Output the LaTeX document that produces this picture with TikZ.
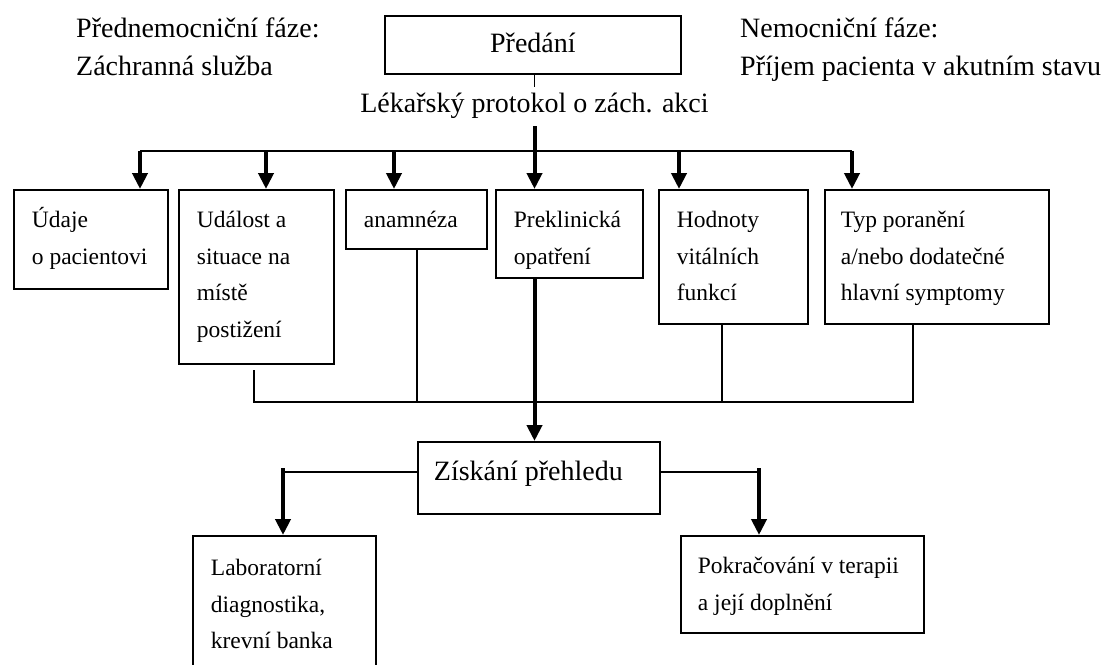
\documentclass[tikz,border=0pt]{standalone}
\usepackage{fontspec}
\setmainfont{Liberation Serif}
\usetikzlibrary{arrows.meta,calc}
% box text: width, height, left indent, first baseline, text
\newcommand\bt[5]{\parbox[c][#2pt][t]{#1pt}{\fontsize{23.5}{36.5}\selectfont\raggedright\leftskip=#3pt\relax\rule{0pt}{#4pt}#5}}
\newcommand\btl[5]{\parbox[c][#2pt][t]{#1pt}{\fontsize{28}{38}\selectfont\raggedright\leftskip=#3pt\relax\rule{0pt}{#4pt}#5}}
\begin{document}
\begin{tikzpicture}[x=1pt,y=1pt,
  box/.style={draw, line width=1.8pt, fill=white, inner sep=0pt, anchor=north west},
  free/.style={anchor=north west, inner sep=0pt, align=left, font=\fontsize{28}{38}\selectfont},
  conn/.style={line width=1.6pt},
  arr/.style={line width=4pt, -{Triangle[width=15pt,length=16pt]}}]
\useasboundingbox (0,0) rectangle (1108,-664);
\fill[white] (0,0) rectangle (1108,-664);
\clip (0,0) rectangle (1108,-664);

% headings
\node[free] (pre) at (76,-7) {\rule{0pt}{30pt}Přednemocniční fáze:\\Záchranná služba};
\node[free] (nem) at (740,-7) {\rule{0pt}{30pt}Nemocniční fáze:\\Příjem pacienta v akutním stavu};

% top box and protocol
\node[box] (predani) at (384,-15) {\parbox[c][58pt][t]{296pt}{\fontsize{28}{38}\selectfont\centering\rule{0pt}{37pt}Předání}};
\node[anchor=base, font=\fontsize{28}{38}\selectfont, text height=17pt, text depth=6pt, inner ysep=8pt, inner xsep=0pt] (prot) at (534.5,-112) {Lékařský protokol o zách. akci};
\draw[conn] (predani.south -| prot.north) -- (prot.north);

% first row of boxes
\node[box] (udaje)   at (13,-189)  {\bt{154}{99}{18}{38}{Údaje\\o pacientovi}};
\node[box] (udalost) at (178,-189) {\bt{155}{174}{18}{38}{Událost a\\situace na\\místě\\postižení}};
\node[box] (anam)    at (345,-189) {\bt{141}{59}{18}{38}{anamnéza}};
\node[box] (prekl)   at (495,-189) {\bt{147}{88}{18}{38}{Preklinická\\opatření}};
\node[box] (hodn)    at (658,-189) {\bt{149}{134}{18}{38}{Hodnoty\\vitálních\\funkcí}};
\node[box] (typ)     at (824,-189) {\bt{224}{134}{16}{38}{Typ poranění\\a/nebo dodatečné\\hlavní symptomy}};

% distribution bus
\coordinate (a1) at (140,-151);
\coordinate (a2) at (266,-151);
\coordinate (a3) at (394,-151);
\coordinate (a5) at (679,-151);
\coordinate (a6) at (852,-151);
\draw[conn] (a1) -- (a6);
\draw[arr] (a1) -- (a1 |- udaje.north);
\draw[arr] (a2) -- (a2 |- udalost.north);
\draw[arr] (a3) -- (a3 |- anam.north);
\draw[arr] (prot.south) -- (prot.south |- prekl.north);
\draw[arr] (a5) -- (a5 |- hodn.north);
\draw[arr] (a6) -- (a6 |- typ.north);

% overview box
\node[box] (zisk) at (417,-441) {\btl{242}{72}{16}{39}{Získání přehledu}};

% collecting bus
\coordinate (u0) at (254,-370);
\coordinate (ab) at (417,-402);
\coordinate (hb) at (722,-402);
\coordinate (tb) at (913,-402);
\draw[conn] (u0) |- (tb) -- (tb |- typ.south);
\draw[conn] (ab |- anam.south) -- (ab);
\draw[conn] (hb |- hodn.south) -- (hb);
\draw[arr] (prot.south |- prekl.south) -- (prot.south |- zisk.north);

% bottom boxes
\node[box] (lab)  at (192,-535) {\bt{183}{150}{18}{40}{Laboratorní\\diagnostika,\\krevní banka}};
\node[box] (pokr) at (680,-535) {\bt{243}{97}{17}{38}{Pokračování v terapii\\a její doplnění}};

\coordinate (zl) at (283,-472);
\coordinate (zr) at (759,-472);
\draw[conn] (zisk.west |- zl) -- (zl);
\draw[arr] ([yshift=4pt]zl) -- (zl |- lab.north);
\draw[conn] (zisk.east |- zr) -- (zr);
\draw[arr] ([yshift=4pt]zr) -- (zr |- pokr.north);
\end{tikzpicture}
\end{document}
